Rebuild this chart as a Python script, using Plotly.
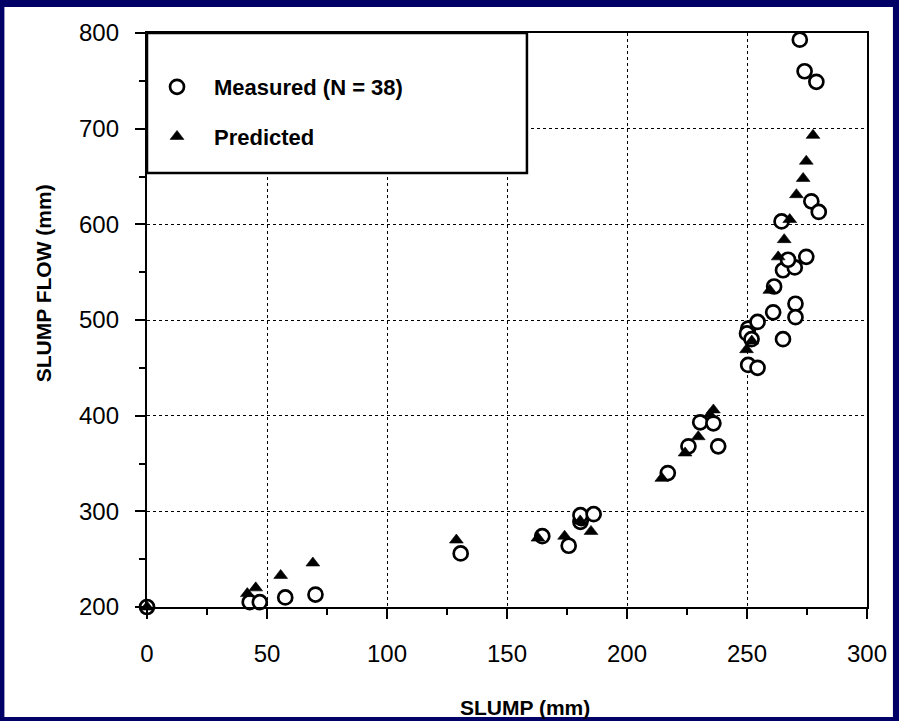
import plotly.graph_objects as go

# Measured (open circles)
meas_x = [0, 42.8, 47, 57.6, 70.2, 130.7, 164.7, 175.7, 180.6, 181, 180.6, 186.1,
          217, 225.6, 230.5, 236, 238, 250.5, 254.4, 250.5, 250, 251.9, 254.4,
          260.9, 261.3, 265, 270.2, 270.2, 265, 269.9, 267.1, 274.7, 264.4,
          276.8, 279.9, 272, 274, 278.9]
meas_y = [200, 205, 205, 210, 213, 256, 274, 264, 289, 293, 296, 297,
          340, 368, 393, 392, 368, 453, 450, 491, 486, 480, 498,
          508, 535, 480, 517, 503, 552, 555, 563, 566, 603,
          624, 613, 793, 760, 749]

# Predicted (filled triangles)
pred_x = [0, 41.8, 45.3, 55.7, 69.1, 128.9, 162.9, 174, 185, 180.5, 214.5, 224.2,
          229.7, 236, 234.5, 249.8, 252, 259.5, 263, 265.5, 267.8, 270.6, 273.4,
          274.7, 277.5]
pred_y = [200, 214, 220, 233, 246, 270, 272, 274, 279, 290, 334.5, 361,
          378, 406, 401, 469, 478, 531, 566, 584, 605, 631, 648,
          666, 693]

x_ticks = [0, 50, 100, 150, 200, 250, 300]
y_ticks = [200, 300, 400, 500, 600, 700, 800]

FONT = "Liberation Sans, Arial, Helvetica, sans-serif"
NAVY = "#000066"

fig = go.Figure()
fig.add_trace(go.Scatter(
    x=meas_x, y=meas_y, mode="markers", name="Measured (N = 38)",
    legendgroup="m",
    marker=dict(symbol="circle", size=14, color="white",
                line=dict(color="black", width=2.7)),
    cliponaxis=False,
))
fig.add_trace(go.Scatter(
    x=pred_x, y=pred_y, mode="markers", name="Predicted",
    legendgroup="p",
    marker=dict(symbol="triangle-up", size=12, color="black",
                line=dict(color="black", width=0.6)),
    cliponaxis=False,
))

L, R, T, B = 147, 30, 33, 114
W, H = 899, 721
pw, ph = W - L - R, H - T - B

def px_x(p):
    return (p - L) / pw

def px_y(p):
    return (H - B - p) / ph

axis_common = dict(
    showline=True, linecolor="black", linewidth=2.3, mirror=True,
    showgrid=True, gridcolor="black", gridwidth=1.4, griddash="dot",
    ticks="outside", ticklen=10, tickwidth=2, tickcolor="black",
    tickfont=dict(family=FONT, size=24, color="black"),
    zeroline=False,
)

fig.update_layout(
    width=W, height=H,
    margin=dict(l=L, r=R, t=T, b=B),
    paper_bgcolor=NAVY,
    plot_bgcolor="white",
    showlegend=True,
    legend=dict(
        x=px_x(140), y=px_y(66), xanchor="left", yanchor="top",
        bgcolor="rgba(0,0,0,0)", borderwidth=0,
        font=dict(family=FONT, size=22, color="black", weight="bold"),
        tracegroupgap=18, itemwidth=64,
    ),
    xaxis=dict(range=[0, 300], tickvals=x_ticks,
               minor=dict(dtick=25, tick0=0, ticks="outside", ticklen=6,
                          tickwidth=2, tickcolor="black", showgrid=False),
               ticklabelstandoff=14, **axis_common),
    yaxis=dict(range=[200, 800], tickvals=y_ticks,
               minor=dict(dtick=50, tick0=0, ticks="outside", ticklen=6,
                          tickwidth=2, tickcolor="black", showgrid=False),
               ticklabelstandoff=11, **axis_common),
    shapes=[
        dict(type="rect", xref="paper", yref="paper",
             x0=px_x(4), x1=px_x(895), y0=px_y(717), y1=px_y(7),
             fillcolor="white", line=dict(width=0), layer="below"),
        dict(type="rect", xref="paper", yref="paper",
             x0=0, x1=px_x(528), y0=px_y(173), y1=1,
             fillcolor="white", line=dict(color="black", width=2.5),
             layer="above"),
    ],
    annotations=[
        dict(text="SLUMP (mm)", xref="paper", yref="paper",
             x=px_x(526), y=px_y(707), showarrow=False,
             xanchor="center", yanchor="middle",
             font=dict(family=FONT, size=21, color="black", weight="bold")),
        dict(text="SLUMP FLOW (mm)", xref="paper", yref="paper",
             x=px_x(43), y=px_y(283), showarrow=False, textangle=-90,
             xanchor="center", yanchor="middle",
             font=dict(family=FONT, size=21, color="black", weight="bold")),
    ],
)

fig.write_html(
    "out.html",
    config={"displayModeBar": False},
    post_script=(
        "document.documentElement.style.margin='0';"
        "document.body.style.margin='0';"
        "document.body.style.padding='0';"
        "document.body.style.background='" + NAVY + "';"
        "document.body.style.overflow='hidden';"
    ),
)
